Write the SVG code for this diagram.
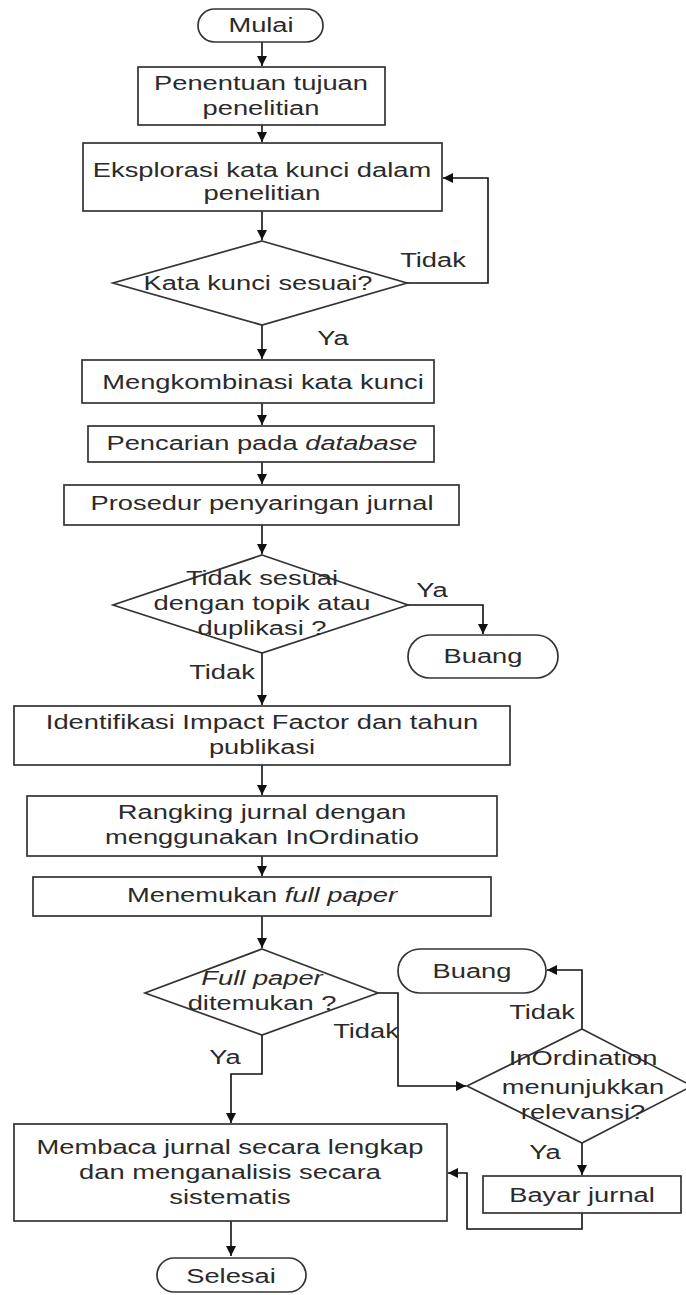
<svg xmlns="http://www.w3.org/2000/svg" width="686" height="1295" viewBox="0 0 686 1295">
<style>
.s{fill:#fff;stroke:#333;stroke-width:1.7}
.c{fill:none;stroke:#111;stroke-width:1.6}
.t{font-family:"Liberation Sans",Arial,sans-serif;font-size:20px;fill:#2a2a2a;text-anchor:middle}
.i{font-style:italic}
</style>
<defs>
<marker id="a" markerUnits="userSpaceOnUse" markerWidth="12" markerHeight="12" refX="10" refY="6" orient="auto">
<path d="M0,1 L10,6 L0,11 Z" fill="#111"/>
</marker>
</defs>
<rect width="686" height="1295" fill="#fff"/>
<g id="connectors">
<path class="c" d="M262,42 V66" marker-end="url(#a)"/>
<path class="c" d="M262,125 V142" marker-end="url(#a)"/>
<path class="c" d="M262,211 V240" marker-end="url(#a)"/>
<path class="c" d="M407,283 H488 V178 H443" marker-end="url(#a)"/>
<path class="c" d="M262,325 V359" marker-end="url(#a)"/>
<path class="c" d="M262,403 V425" marker-end="url(#a)"/>
<path class="c" d="M262,462 V484" marker-end="url(#a)"/>
<path class="c" d="M262,525 V554" marker-end="url(#a)"/>
<path class="c" d="M408,605 H483 V634" marker-end="url(#a)"/>
<path class="c" d="M262,653 V705" marker-end="url(#a)"/>
<path class="c" d="M262,765 V795" marker-end="url(#a)"/>
<path class="c" d="M262,856 V876" marker-end="url(#a)"/>
<path class="c" d="M262,916 V948" marker-end="url(#a)"/>
<path class="c" d="M262,1035 V1074 H231 V1123" marker-end="url(#a)"/>
<path class="c" d="M231,1221 V1256" marker-end="url(#a)"/>
<path class="c" d="M378,993 H398 V1086 H466" marker-end="url(#a)"/>
<path class="c" d="M582,1029 V970 H547" marker-end="url(#a)"/>
<path class="c" d="M582,1143 V1175" marker-end="url(#a)"/>
<path class="c" d="M582,1213 V1229 H467 V1173 H448" marker-end="url(#a)"/>
<text class="t" transform="translate(433,267) scale(1.365,1)">Tidak</text>
<text class="t" transform="translate(333,345) scale(1.365,1)">Ya</text>
<text class="t" transform="translate(432,597) scale(1.365,1)">Ya</text>
<text class="t" transform="translate(222,679) scale(1.365,1)">Tidak</text>
<text class="t" transform="translate(225,1064) scale(1.365,1)">Ya</text>
<text class="t" transform="translate(366,1038) scale(1.365,1)">Tidak</text>
<text class="t" transform="translate(542,1019) scale(1.365,1)">Tidak</text>
<text class="t" transform="translate(545,1159) scale(1.365,1)">Ya</text>
</g>
<g id="mulai">
<rect class="s" x="198" y="9" width="125" height="33" rx="16.5"/>
<text class="t" transform="translate(261,32) scale(1.365,1)">Mulai</text>
</g>
<g id="penentuan">
<rect class="s" x="138" y="67" width="247" height="58"/>
<text class="t" transform="translate(261,90) scale(1.365,1)">Penentuan tujuan</text>
<text class="t" transform="translate(261,115) scale(1.365,1)">penelitian</text>
</g>
<g id="eksplorasi">
<rect class="s" x="83" y="143" width="359" height="68"/>
<text class="t" transform="translate(262,177) scale(1.365,1)">Eksplorasi kata kunci dalam</text>
<text class="t" transform="translate(262,200) scale(1.365,1)">penelitian</text>
</g>
<g id="kata-kunci-sesuai">
<polygon class="s" points="262,241 407,283 262,325 113,283"/>
<text class="t" transform="translate(258,290) scale(1.365,1)">Kata kunci sesuai?</text>
</g>
<g id="mengkombinasi">
<rect class="s" x="82" y="360" width="352" height="43"/>
<text class="t" transform="translate(263,389) scale(1.365,1)">Mengkombinasi kata kunci</text>
</g>
<g id="pencarian">
<rect class="s" x="88" y="426" width="346" height="36"/>
<text class="t" transform="translate(262,450) scale(1.365,1)">Pencarian pada <tspan class="i">database</tspan></text>
</g>
<g id="prosedur">
<rect class="s" x="64" y="485" width="395" height="40"/>
<text class="t" transform="translate(262,510) scale(1.365,1)">Prosedur penyaringan jurnal</text>
</g>
<g id="tidak-sesuai">
<polygon class="s" points="262,555 408,605 262,653 113,605"/>
<text class="t" transform="translate(262,585) scale(1.365,1)">Tidak sesuai</text>
<text class="t" transform="translate(262,610) scale(1.365,1)">dengan topik atau</text>
<text class="t" transform="translate(262,635) scale(1.365,1)">duplikasi ?</text>
</g>
<g id="buang1">
<rect class="s" x="408" y="635" width="150" height="43" rx="21.5"/>
<text class="t" transform="translate(483,663) scale(1.365,1)">Buang</text>
</g>
<g id="identifikasi">
<rect class="s" x="14" y="706" width="496" height="59"/>
<text class="t" transform="translate(262,729) scale(1.365,1)">Identifikasi Impact Factor dan tahun</text>
<text class="t" transform="translate(262,754) scale(1.365,1)">publikasi</text>
</g>
<g id="rangking">
<rect class="s" x="27" y="796" width="470" height="60"/>
<text class="t" transform="translate(262,819) scale(1.365,1)">Rangking jurnal dengan</text>
<text class="t" transform="translate(262,844) scale(1.365,1)">menggunakan InOrdinatio</text>
</g>
<g id="menemukan">
<rect class="s" x="33" y="877" width="458" height="39"/>
<text class="t" transform="translate(262,902) scale(1.365,1)">Menemukan <tspan class="i">full paper</tspan></text>
</g>
<g id="full-paper-ditemukan">
<polygon class="s" points="262,949 378,993 262,1035 145,993"/>
<text class="t i" transform="translate(262,985) scale(1.365,1)">Full paper</text>
<text class="t" transform="translate(262,1010) scale(1.365,1)">ditemukan ?</text>
</g>
<g id="buang2">
<rect class="s" x="398" y="949" width="148" height="44" rx="22"/>
<text class="t" transform="translate(472,978) scale(1.365,1)">Buang</text>
</g>
<g id="inordination">
<polygon class="s" points="582,1029 692,1086 582,1143 467,1086"/>
<text class="t" transform="translate(583,1065) scale(1.365,1)">InOrdination</text>
<text class="t" transform="translate(583,1094) scale(1.365,1)">menunjukkan</text>
<text class="t" transform="translate(583,1119) scale(1.365,1)">relevansi?</text>
</g>
<g id="bayar">
<rect class="s" x="483" y="1176" width="198" height="37"/>
<text class="t" transform="translate(582,1202) scale(1.365,1)">Bayar jurnal</text>
</g>
<g id="membaca">
<rect class="s" x="14" y="1124" width="433" height="97"/>
<text class="t" transform="translate(230,1154) scale(1.365,1)">Membaca jurnal secara lengkap</text>
<text class="t" transform="translate(230,1179) scale(1.365,1)">dan menganalisis secara</text>
<text class="t" transform="translate(230,1204) scale(1.365,1)">sistematis</text>
</g>
<g id="selesai">
<rect class="s" x="157" y="1258" width="149" height="34" rx="17"/>
<text class="t" transform="translate(231,1283) scale(1.365,1)">Selesai</text>
</g>
</svg>
